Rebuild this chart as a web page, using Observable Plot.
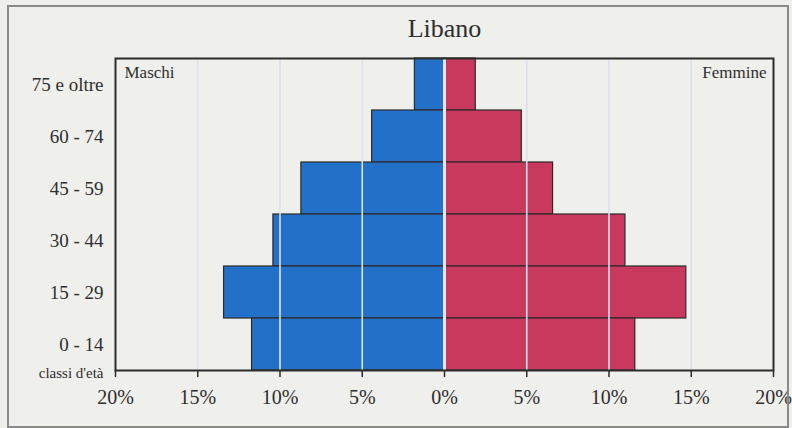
<!DOCTYPE html>
<html>
<head>
<meta charset="utf-8">
<script src="https://cdn.jsdelivr.net/npm/d3@7"></script>
<script src="https://cdn.jsdelivr.net/npm/@observablehq/plot@0.6"></script>
<style>
  html, body { margin: 0; padding: 0; background: #efefec; }
  #wrap { position: relative; width: 792px; height: 428px; overflow: hidden; }
  #border { position: absolute; left: 7px; top: 5px; width: 778px; height: 419px; border: 2px solid #8a8a8a; pointer-events: none; }
  svg { background: transparent; }
</style>
</head>
<body>
<div id="wrap"><div id="border"></div></div>
<script>
const title = "Libano";
const ageClasses = ["75 e oltre", "60 - 74", "45 - 59", "30 - 44", "15 - 29", "0 - 14"];
const males   = [1.8, 4.4, 8.7, 10.4, 13.4, 11.7];
const females = [1.9, 4.7, 6.6, 11.0, 14.7, 11.6];
const xTicks = [-20, -15, -10, -5, 0, 5, 10, 15, 20];
const gridTicks = [-15, -10, -5, 5, 10, 15];
const leftLabel = "Maschi";
const rightLabel = "Femmine";
const yAxisLabel = "classi d'età";

const maleData = ageClasses.map((age, i) => ({age, value: males[i]}));
const femaleData = ageClasses.map((age, i) => ({age, value: females[i]}));

const font = "'Liberation Serif', 'DejaVu Serif', serif";
const ink = "#2e2e2e";

const chart = Plot.plot({
  width: 792,
  height: 428,
  marginLeft: 115,
  marginRight: 19,
  marginTop: 58,
  marginBottom: 58,
  style: {fontFamily: font, color: ink, background: "transparent", overflow: "visible"},
  x: {domain: [-20, 20]},
  y: {domain: ageClasses, padding: 0},
  marks: [
    Plot.barX(maleData, {y: "age", x1: d => -d.value, x2: 0, fill: "#2370c8", stroke: "#2a2a2a", strokeWidth: 1.2}),
    Plot.barX(femaleData, {y: "age", x1: 0, x2: "value", fill: "#c9395e", stroke: "#2a2a2a", strokeWidth: 1.2}),
    Plot.ruleX(gridTicks, {stroke: "#dcdff0", strokeWidth: 1.6}),
    Plot.ruleX([0], {stroke: "#e6e6f2", strokeWidth: 3}),
    Plot.frame({stroke: "#2c2c2c", strokeWidth: 2}),
    Plot.axisX({ticks: xTicks, tickFormat: d => Math.abs(d) + "%", tickSize: 7, tickPadding: 12, fontSize: 20, label: null, stroke: "#2c2c2c", strokeWidth: 1.5, fill: ink}),
    Plot.axisY({tickSize: 0, tickPadding: 12, fontSize: 19, label: null, fill: ink}),
    Plot.text([title], {frameAnchor: "top", dy: -30, lineAnchor: "middle", fontSize: 26, fill: ink}),
    Plot.text([leftLabel], {frameAnchor: "top-left", dx: 9, dy: 7, textAnchor: "start", lineAnchor: "top", fontSize: 17, fill: ink}),
    Plot.text([rightLabel], {frameAnchor: "top-right", dx: -7, dy: 7, textAnchor: "end", lineAnchor: "top", fontSize: 17, fill: ink}),
    Plot.text([yAxisLabel], {frameAnchor: "bottom-left", dx: -12, dy: 3, textAnchor: "end", lineAnchor: "middle", fontSize: 15, fill: ink, style: "letter-spacing:-0.7px"})
  ]
});

document.getElementById("wrap").appendChild(chart);
</script>
</body>
</html>
